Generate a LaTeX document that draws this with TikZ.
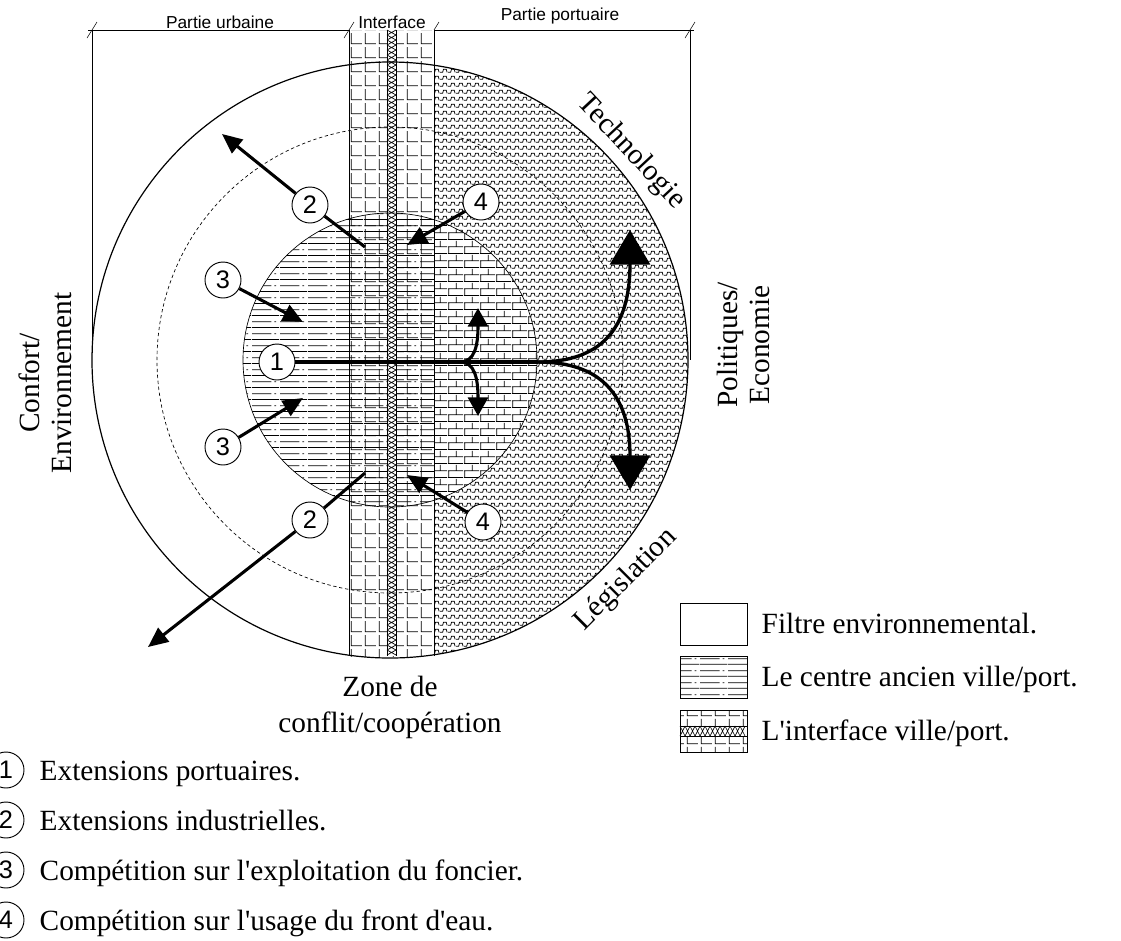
\documentclass[tikz,border=0pt]{standalone}
\usepackage{fontspec}
\setmainfont{Liberation Serif}[Ligatures=TeXOff]
\newfontfamily\arialfont{Liberation Sans}
\usetikzlibrary{patterns,arrows.meta}

% motif partie portuaire
\pgfdeclarepatternformonly{portzig}{\pgfqpoint{0pt}{0pt}}{\pgfqpoint{6pt}{5.25pt}}{\pgfqpoint{6pt}{5.25pt}}{%
  \pgfsetlinewidth{0.65pt}
  \pgfpathmoveto{\pgfqpoint{0pt}{0.6pt}}
  \pgfpathlineto{\pgfqpoint{2.2pt}{0.6pt}}
  \pgfpathlineto{\pgfqpoint{3pt}{3.3pt}}
  \pgfpathlineto{\pgfqpoint{5.2pt}{3.3pt}}
  \pgfpathlineto{\pgfqpoint{6pt}{0.6pt}}
  \pgfusepath{stroke}}
% motif briques
\pgfdeclarepatternformonly{brique}{\pgfqpoint{0pt}{0pt}}{\pgfqpoint{12pt}{10.5pt}}{\pgfqpoint{12pt}{10.5pt}}{%
  \pgfsetlinewidth{0.6pt}
  \pgfpathmoveto{\pgfqpoint{0pt}{0.5pt}}\pgfpathlineto{\pgfqpoint{12pt}{0.5pt}}
  \pgfpathmoveto{\pgfqpoint{0pt}{5.75pt}}\pgfpathlineto{\pgfqpoint{12pt}{5.75pt}}
  \pgfpathmoveto{\pgfqpoint{0.5pt}{0.5pt}}\pgfpathlineto{\pgfqpoint{0.5pt}{5.75pt}}
  \pgfpathmoveto{\pgfqpoint{6.5pt}{5.75pt}}\pgfpathlineto{\pgfqpoint{6.5pt}{10.5pt}}
  \pgfusepath{stroke}}
% motif centre ancien
\pgfdeclarepatternformonly{centre}{\pgfqpoint{0pt}{0pt}}{\pgfqpoint{21pt}{9pt}}{\pgfqpoint{21pt}{9pt}}{%
  \pgfsetlinewidth{0.6pt}
  \pgfpathmoveto{\pgfqpoint{0pt}{0.5pt}}\pgfpathlineto{\pgfqpoint{21pt}{0.5pt}}
  \pgfpathmoveto{\pgfqpoint{0pt}{5pt}}\pgfpathlineto{\pgfqpoint{15pt}{5pt}}
  \pgfpathmoveto{\pgfqpoint{17.3pt}{5pt}}\pgfpathlineto{\pgfqpoint{18.7pt}{5pt}}
  \pgfusepath{stroke}}
% motif interface
\pgfdeclarepatternformonly{interL}{\pgfqpoint{0pt}{0pt}}{\pgfqpoint{10.5pt}{10.5pt}}{\pgfqpoint{10.5pt}{10.5pt}}{%
  \pgfsetlinewidth{0.6pt}
  \pgfpathmoveto{\pgfqpoint{1pt}{9.6pt}}
  \pgfpathlineto{\pgfqpoint{1pt}{1pt}}
  \pgfpathlineto{\pgfqpoint{9.4pt}{1pt}}
  \pgfusepath{stroke}}

\begin{document}
\begin{tikzpicture}[x=0.75pt,y=-0.75pt,
  texte/.style={font=\fontsize{22}{24}\selectfont},
  cote/.style={font=\arialfont\fontsize{13}{13}\selectfont,inner sep=1pt},
  num/.style={circle,draw,line width=0.7pt,fill=white,inner sep=0pt,minimum size=27pt,font=\arialfont\fontsize{19}{19}\selectfont},
  trait/.style={line width=2.3pt},
  fleche/.style={line width=2.3pt,-{Triangle[length=15pt,width=13pt]}},
  petite/.style={line width=2.3pt,-{Triangle[length=14pt,width=15pt]}},
  grande/.style={line width=2.5pt,-{Triangle[length=26pt,width=30pt]}}]
\useasboundingbox (0,0) rectangle (1121,940);

% cotes
\draw[thin] (88,30) -- (694,30);
\foreach \x in {92,349,434,690} \draw[thin] (\x-5,38) -- (\x+5,22);
\draw[thin] (92,30) -- (92,353) (690,30) -- (690,360);
\node[cote,anchor=south] (urb) at (220,30) {Partie urbaine};
\node[cote,anchor=south] (int) at (392,30) {Interface};
\node[cote,anchor=south] (port) at (560,26) {Partie portuaire};

% partie portuaire
\begin{scope}
\clip (390,360) circle (298);
\fill[pattern=portzig] (434,0) rectangle (700,700);
\end{scope}
% interface
\fill[white] (349,30) rectangle (434,656);
\fill[pattern=interL] (349,30) rectangle (434,656);
% centre ancien
\begin{scope}
\clip (390,360) circle (147);
\fill[white] (434,200) rectangle (540,520);
\fill[pattern=brique] (434,200) rectangle (540,520);
\fill[pattern=centre] (240,200) rectangle (434,520);
\end{scope}
% tresse
\fill[white] (387,30) rectangle (396,656);
\foreach \y in {30,35,...,650} \draw[line width=0.5pt] (387,\y) -- (396,\y+5) (396,\y) -- (387,\y+5);
\draw (387,30) -- (387,656) (396,30) -- (396,656);
\draw (349,30) -- (349,656) (434,30) -- (434,656);

% cercles
\draw[line width=0.9pt] (390,360) circle (298);
\draw[line width=0.5pt,dash pattern=on 2.5pt off 2pt] (390,360) circle (233);
\draw[line width=0.5pt] (390,360) circle (147);

% numeros
\node[num] (n1) at (277,362) {1};
\node[num] (n2h) at (310,205) {2};
\node[num] (n2b) at (310,520) {2};
\node[num] (n3h) at (223,280) {3};
\node[num] (n3b) at (223,447) {3};
\node[num] (n4h) at (481,202) {4};
\node[num] (n4b) at (483,522) {4};

\coordinate (d2h) at (365,247);
\coordinate (t2h) at (222,134);
\coordinate (d2b) at (365,473);
\coordinate (t2b) at (148,647);
\coordinate (t3h) at (303,322);
\coordinate (t3b) at (303,398);
\coordinate (t4h) at (407,245);
\coordinate (t4b) at (407,475);
\coordinate (fourche) at (460,362);
\coordinate (bord) at (538,362);
\coordinate (t1a) at (478,308);
\coordinate (t1b) at (478,416);
\coordinate (t1h) at (630,230);
\coordinate (t1d) at (630,490);

% fleches
\draw[trait] (d2h) -- (n2h);
\draw[fleche] (n2h) -- (t2h);
\draw[trait] (d2b) -- (n2b);
\draw[fleche] (n2b) -- (t2b);
\draw[fleche] (n3h) -- (t3h);
\draw[fleche] (n3b) -- (t3b);
\draw[fleche] (n4h) -- (t4h);
\draw[fleche] (n4b) -- (t4b);
\draw[trait] (n1) -- (bord);
\draw[petite] (fourche) .. controls (475,362) and (478,345) .. (t1a);
\draw[petite] (fourche) .. controls (475,362) and (478,379) .. (t1b);
\draw[grande] (bord) .. controls (600,362) and (630,330) .. (t1h);
\draw[grande] (bord) .. controls (600,362) and (630,394) .. (t1d);

% textes autour
\node[texte,rotate=90,align=center] (conf) at (45,383) {Confort/\\Environnement};
\node[texte,rotate=90,align=center] (pol) at (743,345) {Politiques/\\Economie};
\node[texte,rotate=-47] (tech) at (631,152) {Technologie};
\node[texte,rotate=45] (leg) at (626,580) {Législation};
\node[texte,align=center,font=\fontsize{22}{27}\selectfont] (zone) at (390,707) {Zone de\\conflit/coopération};

% legende
\draw[line width=0.7pt] (680,603) rectangle (747,645);
\node[texte,anchor=base west] (lg1) at (757,633) {Filtre environnemental.};
\fill[pattern=centre] (680,656) rectangle (747,698);
\draw[line width=0.7pt] (680,656) rectangle (747,698);
\node[texte,anchor=base west] (lg2) at (757,686) {Le centre ancien ville/port.};
\fill[pattern=interL] (680,710) rectangle (747,752);
\fill[white] (680,726) rectangle (747,736);
\foreach \x in {680,685,...,742} \draw[line width=0.5pt] (\x,726) -- (\x+5,736) (\x,736) -- (\x+5,726);
\draw (680,726) -- (747,726) (680,736) -- (747,736);
\draw[line width=0.7pt] (680,710) rectangle (747,752);
\node[texte,anchor=base west] (lg3) at (757,740) {L'interface ville/port.};

\foreach \i/\t in {1/Extensions portuaires.,2/Extensions industrielles.,3/Compétition sur l'exploitation du foncier.,4/Compétition sur l'usage du front d'eau.} {
  \node[num] (l\i) at (6,720+50*\i) {\i};
  \node[texte,anchor=base west] (e\i) at (35,730+50*\i) {\t};
}
\end{tikzpicture}
\end{document}
